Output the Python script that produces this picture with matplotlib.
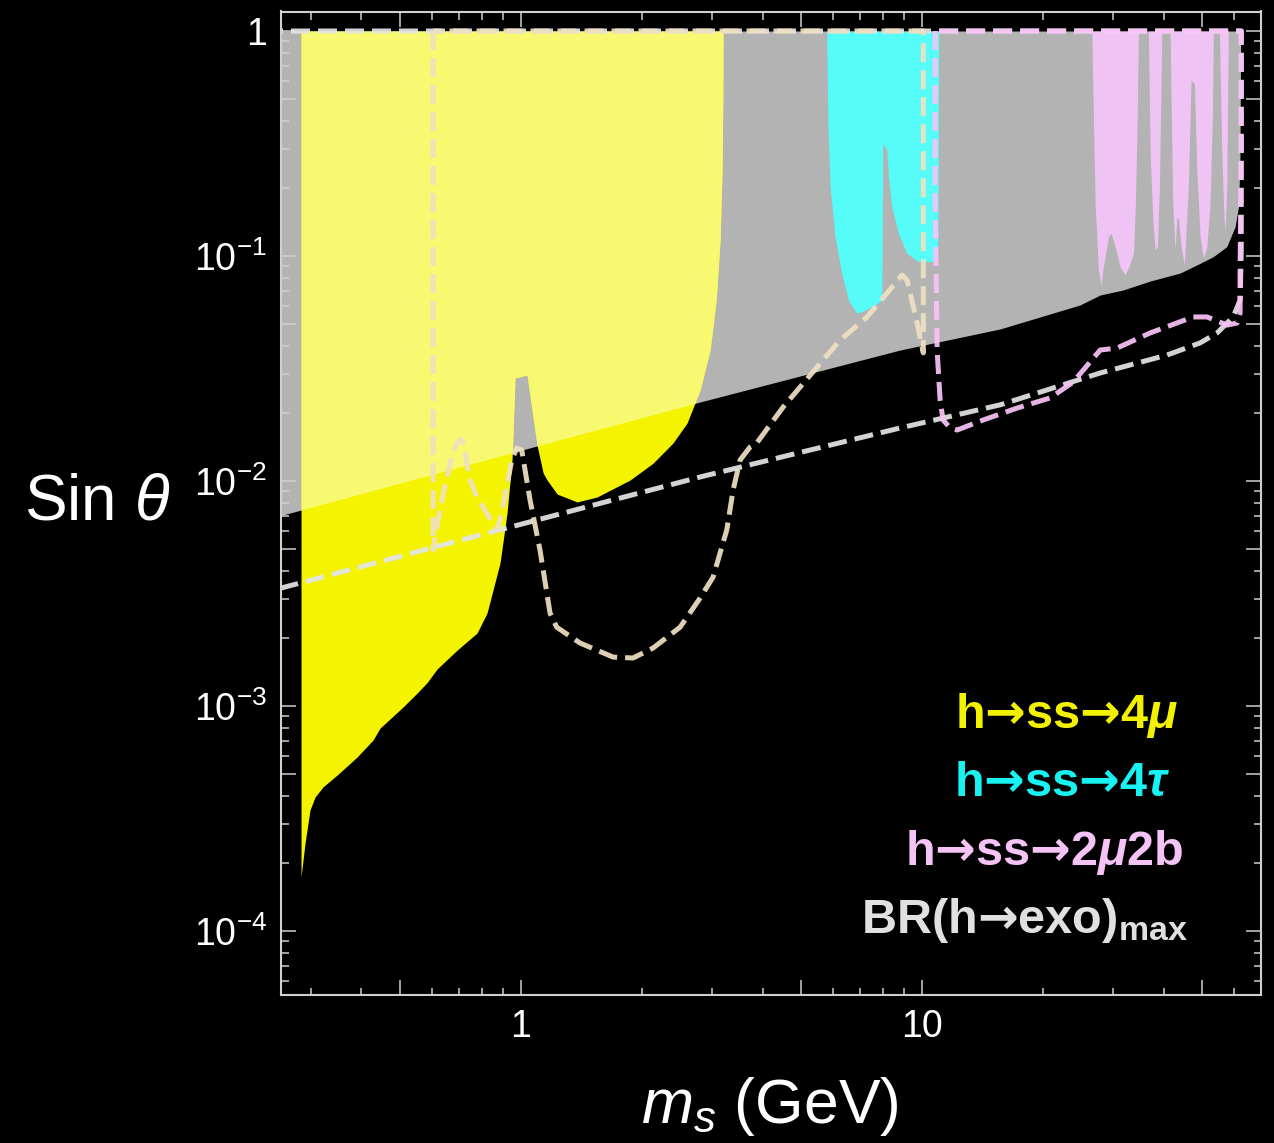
import numpy as np
import matplotlib
matplotlib.use("Agg")
import matplotlib.pyplot as plt
from matplotlib.ticker import FixedLocator, FuncFormatter, NullFormatter

plt.rcParams['font.family'] = ['Liberation Sans', 'DejaVu Sans']
plt.rcParams['mathtext.fontset'] = 'custom'
plt.rcParams['mathtext.rm'] = 'Liberation Sans'
plt.rcParams['mathtext.it'] = 'Liberation Sans:italic'
plt.rcParams['mathtext.bf'] = 'Liberation Sans:bold'
plt.rcParams['mathtext.bfit'] = 'Liberation Sans:italic:bold'
plt.rcParams['mathtext.sf'] = 'DejaVu Sans:bold'

# ---------------- exclusion boundaries (m_s in GeV, sin(theta)) ----------------
# BR(h -> exotic) upper limit
gray_x = [0.25, 1.325, 2.796, 8.81, 15.65, 24.77, 27.8, 31.7, 37.04, 44.0, 49.36,
          53.2, 57.5, 60.33, 61.5, 62.0, 62.3]
gray_y = [7.0e-3, 1.569e-2, 2.245e-2, 3.82e-2, 4.74e-2, 6.06e-2, 6.71e-2, 7.06e-2,
          7.74e-2, 8.4e-2, 9.28e-2, 9.93e-2, 0.110, 0.135, 0.1656, 0.25, 1.0]

# h -> ss -> 4 mu
mu_x = [0.2827, 0.2893, 0.2977, 0.3064, 0.3208, 0.3477, 0.390, 0.4275, 0.4451, 0.5079,
        0.5502, 0.5829, 0.6173, 0.6924, 0.7767, 0.8226, 0.8862, 0.9228, 0.9496, 0.966,
        1.035, 1.096, 1.135, 1.161, 1.23, 1.38, 1.547, 1.87, 2.134, 2.393, 2.594, 2.796,
        2.961, 3.066, 3.136, 3.172, 3.185, 3.19]
mu_y = [1.74e-4, 2.46e-4, 3.45e-4, 3.94e-4, 4.37e-4, 4.93e-4, 5.93e-4, 7.06e-4, 7.98e-4,
        9.9e-4, 1.14e-3, 1.27e-3, 1.46e-3, 1.77e-3, 2.11e-3, 2.59e-3, 4.32e-3, 7.21e-3,
        1.24e-2, 2.87e-2, 2.96e-2, 1.445e-2, 1.086e-2, 1.01e-2, 8.75e-3, 8.07e-3, 8.49e-3,
        1.01e-2, 1.2e-2, 1.476e-2, 1.81e-2, 2.54e-2, 3.82e-2, 6.37e-2, 0.118, 0.241,
        0.494, 1.0]

# h -> ss -> 4 tau
tau_x = [5.785, 5.819, 5.897, 6.067, 6.305, 6.551, 6.875, 7.21, 7.635, 7.934, 7.98,
         8.166, 8.241, 8.402, 8.727, 9.159, 9.79, 10.57, 10.88, 10.95, 11.0]
tau_y = [1.0, 0.402, 0.2032, 0.1219, 0.0838, 0.0637, 0.0556, 0.0575, 0.0606, 0.0637,
         0.3168, 0.296, 0.2251, 0.1656, 0.1262, 0.1028, 0.0944, 0.0944, 0.096, 0.1219, 1.0]

# h -> ss -> 2 mu 2 b
mub_x = [26.50, 26.75, 27.01, 27.53, 27.91, 28.33, 29.15, 29.60, 30.29, 31.17, 32.08,
         33.02, 33.65, 34.04, 34.38, 34.63,
         36.67, 37.04, 37.61, 38.11, 38.62, 39.06, 39.61,
         41.54, 41.84, 42.18, 42.74, 43.17, 43.57, 44.25, 45.08, 46.13, 46.85, 47.75,
         48.42, 49.35, 50.29, 51.29, 52.25, 52.94, 53.25,
         55.12, 55.89, 56.62, 56.95, 57.51, 58.03]
mub_y = [1.0, 0.402, 0.1715, 0.0867, 0.0743, 0.0896, 0.1219, 0.1262, 0.110, 0.0896,
         0.0823, 0.0928, 0.1028, 0.1715, 0.402, 1.0,
         1.0, 0.287, 0.1445, 0.1063, 0.110, 0.2032, 1.0,
         1.0, 0.402, 0.1715, 0.1063, 0.1471, 0.1471, 0.110, 0.0912, 0.2032, 0.6057,
         0.5856, 0.2411, 0.1219, 0.0977, 0.110, 0.1715, 0.402, 1.0,
         1.0, 0.287, 0.1445, 0.1305, 0.2032, 1.0]

# ---------------- projected reaches (dashed contours) ----------------
exo_proj_x = [0.25, 0.79, 2.796, 8.81, 15.65, 27.8, 40.83, 49.36, 54.4, 59.65, 62.1,
              62.5, 62.5, 0.25]
exo_proj_y = [3.33e-3, 5.75e-3, 1.042e-2, 1.72e-2, 2.18e-2, 3.02e-2, 3.63e-2, 4.11e-2,
              4.55e-2, 5.36e-2, 6.37e-2, 0.106, 1.0, 1.0]

mu_proj_x = [0.6034, 0.6034, 0.6163, 0.640, 0.6716, 0.6912, 0.7074, 0.7181, 0.7459,
             0.7751, 0.8215, 0.8698, 0.8862, 0.9212, 0.948, 0.9756, 1.004, 1.053, 1.115,
             1.181, 1.227, 1.403, 1.696, 1.902, 2.134, 2.492, 2.796, 3.012, 3.258, 3.379,
             3.517, 3.725, 3.871, 4.502, 5.473, 6.246, 7.293, 8.915, 9.175, 9.716, 10.07,
             10.07, 0.6034]
mu_proj_y = [1.0, 4.93e-3, 6.26e-3, 8.82e-3, 1.28e-2, 1.47e-2, 1.53e-2, 1.47e-2, 1.01e-2,
             8.52e-3, 7.19e-3, 6.06e-3, 6.71e-3, 9.43e-3, 1.24e-2, 1.40e-2, 1.37e-2,
             8.23e-3, 4.93e-3, 2.59e-3, 2.24e-3, 1.905e-3, 1.65e-3, 1.634e-3, 1.81e-3,
             2.24e-3, 3.02e-3, 3.74e-3, 6.06e-3, 9.12e-3, 1.24e-2, 1.416e-2, 1.476e-2,
             2.13e-2, 3.21e-2, 4.23e-2, 5.36e-2, 8.23e-2, 7.82e-2, 5.04e-2, 3.71e-2,
             1.0, 1.0]

mub_proj_x = [10.78, 10.78, 10.90, 11.09, 11.28, 11.75, 12.23, 14.20, 17.26, 20.86, 23.80,
              27.80, 30.64, 37.04, 47.41, 51.37, 57.62, 61.03, 62.09, 62.09, 62.5, 62.5,
              10.78]
mub_proj_y = [1.0, 0.1774, 3.82e-2, 2.29e-2, 1.867e-2, 1.72e-2, 1.685e-2, 1.867e-2,
              2.11e-2, 2.34e-2, 2.75e-2, 3.82e-2, 3.9e-2, 4.55e-2, 5.36e-2, 5.36e-2,
              4.93e-2, 5.04e-2, 5.58e-2, 8.94e-2, 0.296, 1.0, 1.0]

ARROW = '$\\mathsf{→}$'
legend_labels = ['h' + ARROW + 'ss' + ARROW + '4$\\mathbfit{\\mu}$',
                 'h' + ARROW + 'ss' + ARROW + '4$\\mathbfit{\\tau}$',
                 'h' + ARROW + 'ss' + ARROW + '2$\\mathbfit{\\mu}$2b',
                 'BR(h' + ARROW + 'exo)$_{\\mathbf{max}}$']
legend_colors = ['#F2F200', '#18F2F2', '#F5C3F5', '#E0E0E0']

# ---------------- figure ----------------
W, H = 1274, 1143
fig = plt.figure(figsize=(W / 100, H / 100), dpi=100, facecolor='black')
ax = fig.add_axes([281 / W, 1 - 995 / H, 980 / W, 983.5 / H])
ax.set_facecolor('black')
ax.set_xscale('log')
ax.set_yscale('log')
ax.set_xlim(0.252, 70)
ax.set_ylim(5.194e-5, 1.221)

GRAY = '#B3B3B3'
YEL = '#F4F400'
YEL_LIGHT = '#F9F971'
CYAN = '#55FCF8'
PINK = '#F0C3F5'

ax.fill_between(gray_x, gray_y, 1.0, color=GRAY, lw=0, zorder=1)
ax.fill_between(mu_x, mu_y, 1.0, color=YEL, lw=0, zorder=2)

# part of the 4mu region that also lies inside the BR(h->exo) region
xs = np.union1d(np.geomspace(mu_x[0], mu_x[-1], 3000), mu_x)
lx = np.log10(xs)
y_mu = 10 ** np.interp(lx, np.log10(mu_x), np.log10(mu_y))
y_gr = 10 ** np.interp(lx, np.log10(gray_x), np.log10(gray_y))
ax.fill_between(xs, np.maximum(y_mu, y_gr), 1.0, color=YEL_LIGHT, lw=0, zorder=2.5)

ax.fill_between(tau_x, tau_y, 1.0, color=CYAN, lw=0, zorder=3)
ax.fill_between(mub_x, mub_y, 1.0, color=PINK, lw=0, zorder=3)

dash = (0, (3.8, 1.6))
common = dict(lw=3.6, ls=dash, dash_capstyle='butt', alpha=0.93, zorder=5)
ax.plot(exo_proj_x, exo_proj_y, color='#E4E4E4', **common)
ax.plot(mu_proj_x, mu_proj_y, color='#EEE0C2', **common)
ax.plot(mub_proj_x, mub_proj_y, color='#F8C3F8', **common)

# ---------------- axes styling ----------------
FRAME = '#D0D0D0'
for s in ax.spines.values():
    s.set_color(FRAME)
    s.set_linewidth(1.5)
    s.set_zorder(6)

ax.xaxis.set_major_locator(FixedLocator([0.5, 1, 5, 10, 50]))
ax.xaxis.set_minor_locator(FixedLocator([0.3, 0.4, 0.6, 0.7, 0.8, 0.9, 2, 3, 4, 6, 7, 8, 9,
                                         20, 30, 40, 60, 70]))
xlab = {1: '1', 10: '10'}
ax.xaxis.set_major_formatter(FuncFormatter(
    lambda v, p: next((t for k, t in xlab.items() if np.isclose(v, k)), '')))
ax.xaxis.set_minor_formatter(NullFormatter())

ymaj = [1e-4, 5e-4, 1e-3, 5e-3, 1e-2, 5e-2, 0.1, 0.5, 1.0]
ymin = [k * 10.0 ** e for e in range(-5, 0) for k in (2, 3, 4, 6, 7, 8, 9)]
ax.yaxis.set_major_locator(FixedLocator(ymaj))
ax.yaxis.set_minor_locator(FixedLocator(ymin))
ylab = {1e-4: '$10^{-4}$', 1e-3: '$10^{-3}$', 1e-2: '$10^{-2}$', 1e-1: '$10^{-1}$', 1.0: '1'}
ax.yaxis.set_major_formatter(FuncFormatter(
    lambda v, p: next((t for k, t in ylab.items() if np.isclose(v, k)), '')))
ax.yaxis.set_minor_formatter(NullFormatter())

ax.tick_params(which='both', direction='in', top=True, right=True, color=FRAME,
               labelcolor='white', labelsize=27, width=1.1, pad=10)
ax.tick_params(which='major', length=10.8)
ax.tick_params(which='minor', length=5.4)
for t in ax.get_xticklines() + ax.get_yticklines():
    t.set_zorder(7)

ax.set_xlabel('$m_s$ (GeV)', fontsize=45, color='white')
ax.xaxis.set_label_coords(0.499, -0.081)
ax.set_ylabel('Sin $\\theta$', fontsize=46, color='white', rotation=0,
              ha='center', va='center')
ax.yaxis.set_label_coords(-0.1878, 0.5003)

# ---------------- labels of the regions ----------------
legend_pos = [(1178, 728), (1170, 796), (1183, 865), (1188, 933)]
for lab, col, (px, py) in zip(legend_labels, legend_colors, legend_pos):
    fig.text(px / W, 1 - py / H, lab, color=col, fontsize=35, fontweight='bold',
             ha='right', va='baseline')

fig.savefig('out.png', dpi=100, facecolor='black')
